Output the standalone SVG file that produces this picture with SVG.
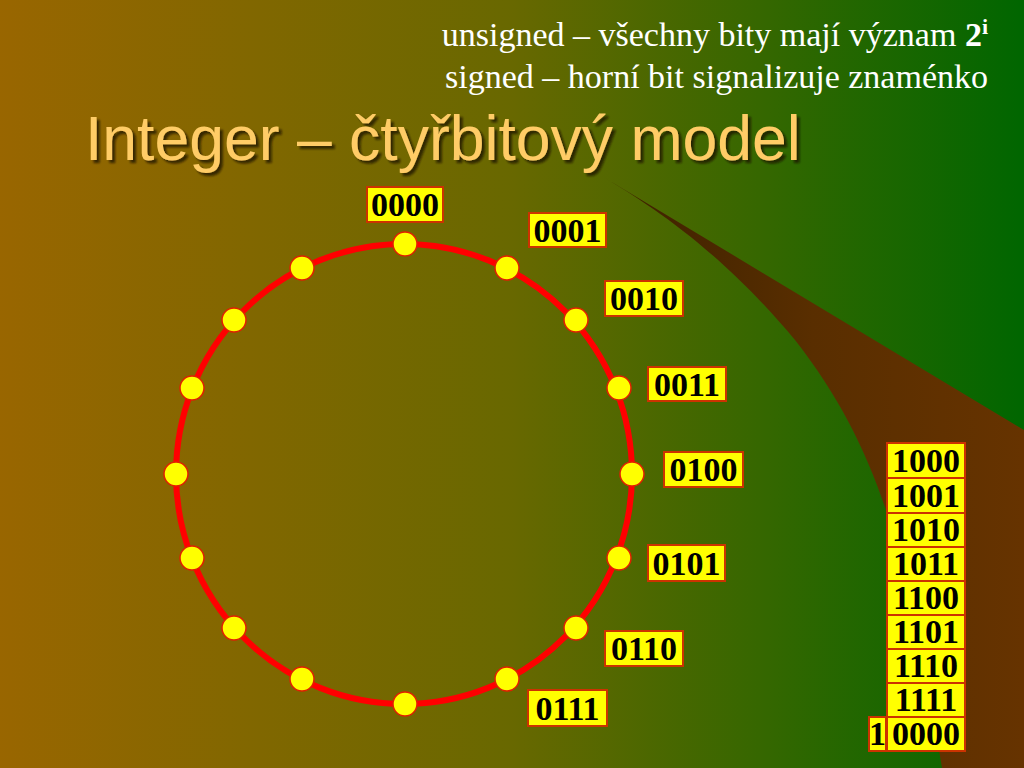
<svg xmlns="http://www.w3.org/2000/svg" width="1024" height="768" viewBox="0 0 1024 768">
<defs>
<linearGradient id="bg" x1="0" y1="0" x2="1" y2="0">
<stop offset="0" stop-color="#996600"/>
<stop offset="0.5" stop-color="#686800"/>
<stop offset="1" stop-color="#006600"/>
</linearGradient>
<linearGradient id="wedge" x1="600" y1="0" x2="1024" y2="0" gradientUnits="userSpaceOnUse">
<stop offset="0" stop-color="#3a2000"/>
<stop offset="0.5" stop-color="#592e00"/>
<stop offset="1" stop-color="#663300"/>
</linearGradient>
<filter id="shadow" x="-5%" y="-20%" width="110%" height="140%">
<feDropShadow dx="3" dy="3" stdDeviation="1" flood-color="#1a1000" flood-opacity="0.75"/>
</filter>
<style>
.lbl rect{fill:#ffff00;stroke:#cc3300;stroke-width:2}
.lbl text{font-family:"Liberation Serif",serif;font-weight:bold;font-size:34px;fill:#000;text-anchor:middle}
.dot{fill:#ffff00;stroke:#e02000;stroke-width:1.5}
.note{font-family:"Liberation Serif",serif;font-size:34px;fill:#ffffff;text-anchor:end}
.title{font-family:"Liberation Sans",Arial,sans-serif;font-size:62.5px;fill:#ffcc66}
</style>
</defs>
<rect width="1024" height="768" fill="url(#bg)"/>
<path d="M605,178 L1024,430 L1024,768 L942,768 C910,570 885,455 795,340 C720,250 650,205 605,178 Z" fill="url(#wedge)"/>

<text class="note" x="988" y="46">unsigned – všechny bity mají význam <tspan font-weight="bold">2</tspan><tspan font-weight="bold" font-size="22" dy="-12">i</tspan></text>
<text class="note" x="988" y="88">signed – horní bit signalizuje znaménko</text>

<text class="title" x="85" y="160" filter="url(#shadow)">Integer – čtyřbitový model</text>

<g id="connectors">
<ellipse cx="404" cy="474" rx="228" ry="230" fill="none" stroke="#ff0000" stroke-width="6"/>
</g>

<g id="dots">
<circle class="dot" cx="405" cy="244" r="12"/>
<circle class="dot" cx="507" cy="268" r="12"/>
<circle class="dot" cx="576" cy="320" r="12"/>
<circle class="dot" cx="619" cy="388" r="12"/>
<circle class="dot" cx="632" cy="474" r="12"/>
<circle class="dot" cx="619" cy="558" r="12"/>
<circle class="dot" cx="576" cy="628" r="12"/>
<circle class="dot" cx="507" cy="679" r="12"/>
<circle class="dot" cx="405" cy="704" r="12"/>
<circle class="dot" cx="302" cy="679" r="12"/>
<circle class="dot" cx="234" cy="628" r="12"/>
<circle class="dot" cx="192" cy="558" r="12"/>
<circle class="dot" cx="176" cy="474" r="12"/>
<circle class="dot" cx="192" cy="388" r="12"/>
<circle class="dot" cx="234" cy="320" r="12"/>
<circle class="dot" cx="302" cy="268" r="12"/>
</g>

<g id="n0000" class="lbl"><rect x="367" y="187" width="76" height="35"/><text x="405" y="216">0000</text></g>
<g id="n0001" class="lbl"><rect x="529" y="213" width="77" height="34"/><text x="567.5" y="242">0001</text></g>
<g id="n0010" class="lbl"><rect x="605" y="281" width="78" height="35"/><text x="644" y="310">0010</text></g>
<g id="n0011" class="lbl"><rect x="648" y="367" width="78" height="34"/><text x="687" y="396">0011</text></g>
<g id="n0100" class="lbl"><rect x="664" y="452" width="79" height="35"/><text x="703.5" y="481">0100</text></g>
<g id="n0101" class="lbl"><rect x="648" y="545" width="77" height="36"/><text x="686.5" y="575">0101</text></g>
<g id="n0110" class="lbl"><rect x="605" y="631" width="78" height="35"/><text x="644" y="660">0110</text></g>
<g id="n0111" class="lbl"><rect x="528" y="690" width="79" height="36"/><text x="567.5" y="720">0111</text></g>

<g id="stack">
<g id="s1000" class="lbl"><rect x="887" y="443" width="78" height="35"/><text x="926" y="472">1000</text></g>
<g id="s1001" class="lbl"><rect x="887" y="478" width="78" height="35"/><text x="926" y="507">1001</text></g>
<g id="s1010" class="lbl"><rect x="887" y="513" width="78" height="34"/><text x="926" y="541">1010</text></g>
<g id="s1011" class="lbl"><rect x="887" y="547" width="78" height="34"/><text x="926" y="575">1011</text></g>
<g id="s1100" class="lbl"><rect x="887" y="581" width="78" height="34"/><text x="926" y="609">1100</text></g>
<g id="s1101" class="lbl"><rect x="887" y="615" width="78" height="34"/><text x="926" y="643">1101</text></g>
<g id="s1110" class="lbl"><rect x="887" y="649" width="78" height="34"/><text x="926" y="677">1110</text></g>
<g id="s1111" class="lbl"><rect x="887" y="683" width="78" height="34"/><text x="926" y="711">1111</text></g>
<g id="s0000" class="lbl"><rect x="887" y="717" width="78" height="34"/><text x="926" y="745">0000</text></g>
<g id="s1" class="lbl"><rect x="869" y="717" width="17" height="34"/><text x="877.5" y="745">1</text></g>
</g>
</svg>
